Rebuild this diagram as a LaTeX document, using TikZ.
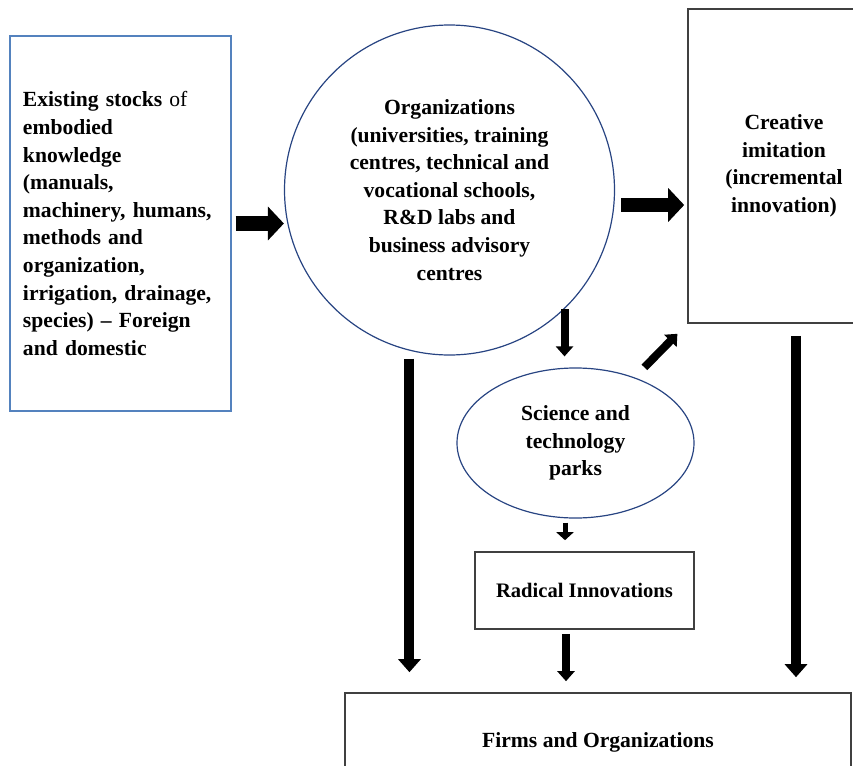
\documentclass[tikz,border=0pt]{standalone}
\usepackage{fontspec}
\setmainfont{Liberation Serif}
\usetikzlibrary{arrows.meta,shapes.geometric,calc}
\definecolor{stockblue}{RGB}{84,130,190}
\definecolor{ringblue}{RGB}{40,68,130}
\definecolor{boxgray}{RGB}{64,64,64}

\begin{document}
\begin{tikzpicture}
  [x=0.5pt,y=-0.5pt,thick,
   every node/.style={font=\fontsize{10.8}{13.8}\selectfont\bfseries,align=center},
   stockbox/.style={rectangle,draw=stockblue,line width=0.6pt},
   greybox/.style={rectangle,draw=boxgray,line width=0.8pt},
   ring/.style={draw=ringblue,line width=0.6pt},
   bigarrow/.style={-{Triangle[width=16.5pt,length=8pt]},line width=7.2pt},
   longarrow/.style={-{Triangle[width=11pt,length=6.5pt]},line width=5pt},
   midarrow/.style={-{Triangle[width=8.5pt,length=5pt]},line width=4pt},
   smallarrow/.style={-{Triangle[width=8.5pt,length=4pt]},line width=2.5pt}]
  \useasboundingbox (0,0) rectangle (853,766);

  \node[stockbox,minimum width=110.5pt,minimum height=187.5pt,text width=97.5pt,align=left] (stocks) at (120.5,223.5)
    {Existing stocks \textmd{of}\\embodied\\knowledge\\(manuals,\\machinery, humans,\\methods and\\organization,\\irrigation, drainage,\\species) -- Foreign\\and domestic};
  \node[ring,circle,minimum size=165pt] (orgs) at (449.5,190)
    {Organizations\\(universities, training\\centres, technical and\\vocational schools,\\R\&D labs and\\business advisory\\centres};
  \node[greybox,minimum width=96pt,minimum height=157pt] (imitation) at (784,166)
    {Creative\\imitation\\(incremental\\innovation)};
  \node[ring,ellipse,minimum width=118.5pt,minimum height=75pt] (parks) at (575.5,443)
    {Science and\\technology\\parks};
  \node[greybox,minimum width=109.5pt,minimum height=38.5pt,font=\fontsize{10.3}{13.8}\selectfont\bfseries] (radical) at (584.5,590.5)
    {Radical Innovations};
  \node[greybox,minimum width=253pt,minimum height=49pt] (firms) at (598,742)
    {Firms and Organizations};

  \coordinate (o2) at ($(orgs.east)+(0,15)$);
  \coordinate (p1) at ($(parks.south)+(-10.5,0)$);
  \coordinate (r1) at ($(radical.south)+(-18.5,0)$);
  \coordinate (i1) at ($(imitation.south)+(12,0)$);

  \draw[bigarrow,shorten <=2pt] (stocks.east) -- (stocks.east -| orgs.west);
  \draw[bigarrow,shorten <=3pt,shorten >=1.5pt] (o2) -- (o2 -| imitation.west);
  \draw[midarrow,shorten >=5.5pt] (orgs.314) -- (orgs.314 |- parks.north);
  \draw[midarrow,shorten <=7pt,shorten >=7pt] (parks.48) -- (imitation.south west);
  \draw[smallarrow,shorten <=2pt,shorten >=5.5pt] (p1) -- (p1 |- radical.north);
  \draw[midarrow,shorten <=2pt,shorten >=5.5pt] (r1) -- (r1 |- firms.north);
  \draw[longarrow,shorten <=4pt,shorten >=10pt] (orgs.256) -- (orgs.256 |- firms.north);
  \draw[longarrow,shorten <=6pt,shorten >=7.5pt] (i1) -- (i1 |- firms.north);
\end{tikzpicture}
\end{document}
